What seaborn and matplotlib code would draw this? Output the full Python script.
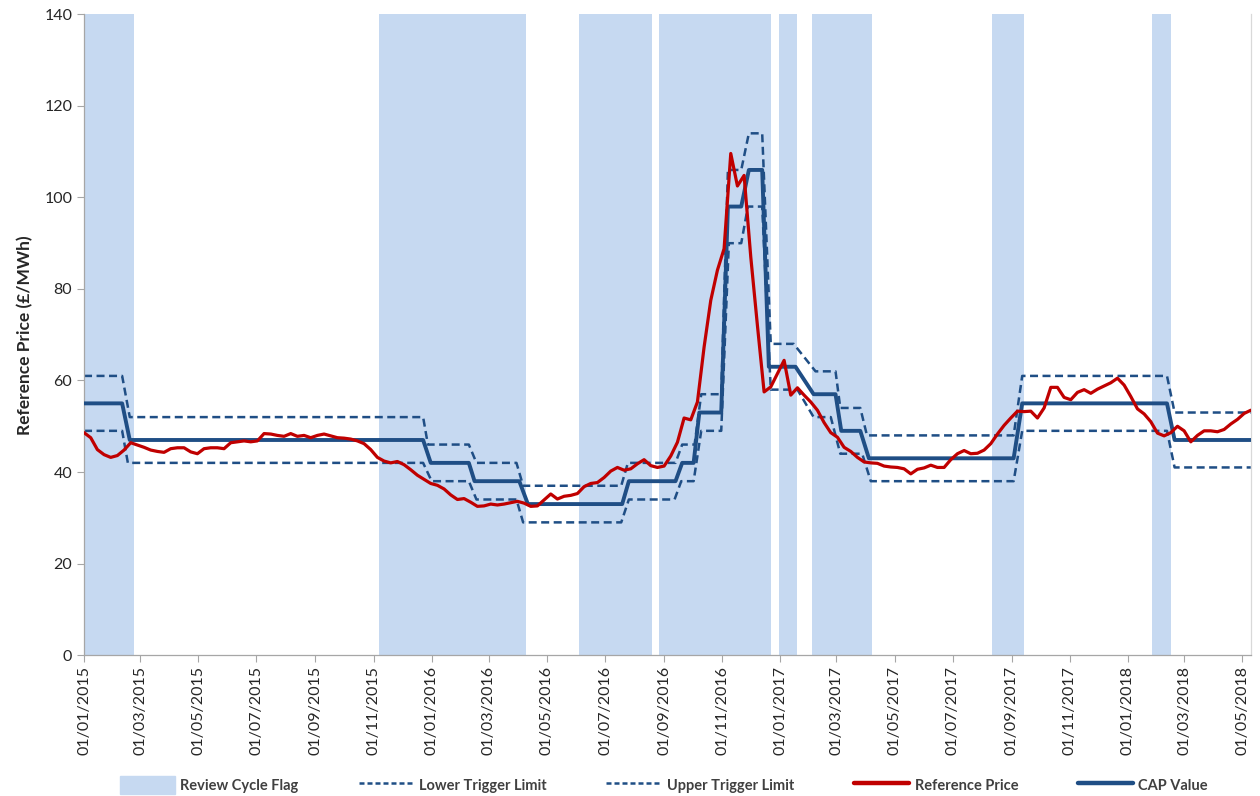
import matplotlib
matplotlib.use("Agg")
import matplotlib.pyplot as plt
import matplotlib.dates as mdates
from matplotlib.patches import Patch
from matplotlib.lines import Line2D
import seaborn as sns
import pandas as pd

# weekly reference price (GBP/MWh), starting 01/01/2015
ref_price = [
    48.6, 47.5, 44.9, 43.8, 43.2, 43.6, 44.8, 46.4, 45.9, 45.4,
    44.8, 44.5, 44.3, 45.1, 45.3, 45.3, 44.4, 44.0, 45.1, 45.3,
    45.3, 45.1, 46.4, 46.6, 46.8, 46.6, 46.8, 48.4, 48.3, 48.0,
    47.8, 48.4, 47.8, 48.0, 47.5, 48.0, 48.3, 47.9, 47.5, 47.4,
    47.2, 46.8, 46.2, 44.9, 43.2, 42.4, 42.0, 42.3, 41.6, 40.5,
    39.3, 38.4, 37.5, 37.1, 36.3, 35.0, 34.0, 34.2, 33.4, 32.5,
    32.6, 33.0, 32.8, 33.0, 33.3, 33.6, 33.2, 32.5, 32.6, 33.9,
    35.2, 34.1, 34.7, 34.9, 35.3, 36.8, 37.5, 37.7, 38.8, 40.2,
    41.0, 40.4, 40.7, 41.8, 42.7, 41.4, 41.0, 41.3, 43.5, 46.5,
    51.8, 51.4, 55.3, 67.3, 77.5, 84.1, 88.8, 109.6, 102.5, 104.8,
    87.0, 72.0, 57.5, 58.6, 61.5, 64.4, 56.8, 58.4, 56.8, 55.3,
    53.5, 50.8, 48.6, 47.6, 45.4, 44.5, 43.2, 42.2, 42.0, 41.9,
    41.3, 41.1, 41.0, 40.7, 39.6, 40.6, 40.9, 41.5, 41.0, 41.0,
    42.7, 44.0, 44.7, 44.0, 44.1, 44.8, 46.2, 48.3, 50.2, 51.8,
    53.3, 53.2, 53.3, 51.8, 54.0, 58.5, 58.5, 56.3, 55.8, 57.4,
    58.0, 57.2, 58.1, 58.8, 59.5, 60.5, 59.0, 56.5, 53.8, 52.7,
    51.0, 48.5, 47.9, 48.6, 50.0, 49.0, 46.6, 48.0, 49.0, 49.0,
    48.8, 49.3, 50.5, 51.5, 52.8, 53.5,
]
ref_dates = pd.date_range("2015-01-01", periods=len(ref_price), freq="7D")

# step series, given as the vertices of the lines
cap_dates = ["2015-01-01", "2015-02-10", "2015-02-18", "2015-12-23", "2015-12-31",
             "2016-02-09", "2016-02-15", "2016-04-02", "2016-04-11", "2016-07-19",
             "2016-07-26", "2016-09-13", "2016-09-20", "2016-10-02", "2016-10-08",
             "2016-10-31", "2016-11-07", "2016-11-21", "2016-11-29", "2016-12-13",
             "2016-12-20", "2017-01-17", "2017-02-05", "2017-02-28", "2017-03-06",
             "2017-03-26", "2017-04-04", "2017-09-03", "2017-09-12", "2018-02-11",
             "2018-02-19", "2018-05-10"]
cap_values = [55, 55, 47, 47, 42, 42, 38, 38, 33, 33, 38, 38, 42, 42, 53, 53,
              98, 98, 106, 106, 63, 63, 57, 57, 49, 49, 43, 43, 55, 55, 47, 47]

upper_dates = ["2015-01-01", "2015-02-10", "2015-02-18", "2015-12-23", "2015-12-28",
               "2016-02-09", "2016-02-17", "2016-03-30", "2016-04-06", "2016-07-18",
               "2016-07-25", "2016-09-13", "2016-09-20", "2016-10-03", "2016-10-10",
               "2016-10-31", "2016-11-07", "2016-11-21", "2016-11-29", "2016-12-13",
               "2016-12-22", "2017-01-15", "2017-02-07", "2017-02-28", "2017-03-05",
               "2017-03-26", "2017-04-02", "2017-09-03", "2017-09-12", "2018-02-11",
               "2018-02-19", "2018-05-10"]
upper_values = [61, 61, 52, 52, 46, 46, 42, 42, 37, 37, 42, 42, 46, 46, 57, 57,
                106, 106, 114, 114, 68, 68, 62, 62, 54, 54, 48, 48, 61, 61, 53, 53]

lower_dates = ["2015-01-01", "2015-02-10", "2015-02-16", "2015-12-23", "2016-01-01",
               "2016-02-09", "2016-02-17", "2016-03-30", "2016-04-06", "2016-07-18",
               "2016-07-26", "2016-09-12", "2016-09-19", "2016-10-02", "2016-10-10",
               "2016-10-31", "2016-11-08", "2016-11-21", "2016-11-28", "2016-12-13",
               "2016-12-22", "2017-01-19", "2017-02-05", "2017-02-23", "2017-03-05",
               "2017-03-28", "2017-04-06", "2017-09-03", "2017-09-12", "2018-02-11",
               "2018-02-19", "2018-05-10"]
lower_values = [49, 49, 42, 42, 38, 38, 34, 34, 29, 29, 34, 34, 38, 38, 49, 49,
                90, 90, 98, 98, 58, 58, 52, 52, 44, 44, 38, 38, 49, 49, 41, 41]

# review cycle flag periods
flag_start = ["2015-01-01", "2015-11-07", "2016-06-04", "2016-08-27",
              "2016-12-31", "2017-02-03", "2017-08-11", "2018-01-26"]
flag_end = ["2015-02-22", "2016-04-09", "2016-08-19", "2016-12-22",
            "2017-01-19", "2017-04-07", "2017-09-14", "2018-02-15"]

flag_color = "#C6D9F1"
blue = "#1F4E85"
red = "#C00000"

sns.set_theme(style="white")
plt.rcParams["font.family"] = ["Lato", "DejaVu Sans"]

fig = plt.figure(figsize=(12.6, 7.96), dpi=100)
ax = fig.add_axes([0.0667, 0.177, 0.926, 0.805])

for s, e in zip(flag_start, flag_end):
    ax.axvspan(pd.Timestamp(s), pd.Timestamp(e), color=flag_color, lw=0, zorder=0)

sns.lineplot(x=pd.to_datetime(lower_dates), y=lower_values, ax=ax, color=blue,
             lw=1.8, ls=(0, (3.2, 1.8)), estimator=None, zorder=2)
sns.lineplot(x=pd.to_datetime(upper_dates), y=upper_values, ax=ax, color=blue,
             lw=1.8, ls=(0, (3.2, 1.8)), estimator=None, zorder=2)
sns.lineplot(x=pd.to_datetime(cap_dates), y=cap_values, ax=ax, color=blue,
             lw=2.8, estimator=None, zorder=3)
sns.lineplot(x=ref_dates, y=ref_price, ax=ax, color=red, lw=2.3,
             estimator=None, zorder=4)

ax.set_xlim(pd.Timestamp("2015-01-01"), pd.Timestamp("2018-05-10"))
ax.set_ylim(0, 140)
ax.set_yticks(range(0, 141, 20))
ax.xaxis.set_major_locator(mdates.MonthLocator(bymonth=[1, 3, 5, 7, 9, 11]))
ax.xaxis.set_major_formatter(mdates.DateFormatter("%d/%m/%Y"))
ax.tick_params(axis="x", rotation=90, labelsize=11.5, length=5, width=0.8,
               color="#A6A6A6", direction="out", bottom=True, pad=3)
ax.tick_params(axis="y", labelsize=11.5, length=5, width=0.8,
               color="#A6A6A6", direction="out", left=True)
ax.set_xlabel("")
ax.set_ylabel("Reference Price (£/MWh)", fontsize=12.5, fontweight="bold", labelpad=8)

for side in ["left", "bottom", "right"]:
    ax.spines[side].set_color("#A6A6A6")
    ax.spines[side].set_linewidth(0.9)
ax.spines["top"].set_visible(False)
ax.spines["right"].set_color("#D9D9D9")

handles = [
    Patch(facecolor=flag_color, edgecolor=flag_color),
    Line2D([], [], color=blue, lw=1.8, ls=(0, (2, 1.2))),
    Line2D([], [], color=blue, lw=1.8, ls=(0, (2, 1.2))),
    Line2D([], [], color=red, lw=3.2),
    Line2D([], [], color=blue, lw=3.2),
]
labels = ["Review Cycle Flag", "Lower Trigger Limit", "Upper Trigger Limit",
          "Reference Price", "CAP Value"]
fig.legend(handles, labels, loc="center", bbox_to_anchor=(0.527, 0.014), ncol=5,
           frameon=False, handlelength=3.8, handleheight=1.5, handletextpad=0.35,
           columnspacing=4.1, prop={"weight": "bold", "size": 10.5},
           labelcolor="#404040")

fig.savefig("out.png", dpi=100)
